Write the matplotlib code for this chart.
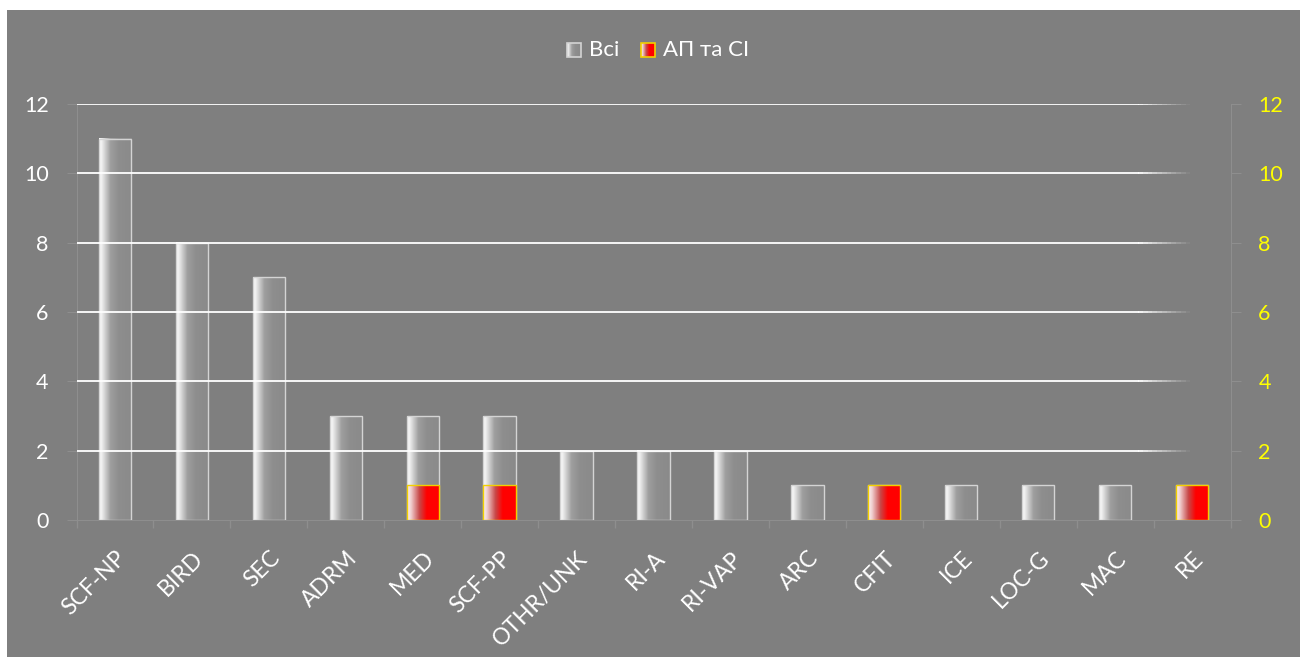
import numpy as np
import matplotlib
matplotlib.use("Agg")
import matplotlib.pyplot as plt
from matplotlib.patches import Rectangle
from matplotlib.colors import LinearSegmentedColormap
from matplotlib.collections import LineCollection
from matplotlib.transforms import ScaledTranslation

plt.rcParams['font.family'] = ['Lato', 'Noto Sans', 'DejaVu Sans']

# Occurrence categories and counts
categories = ["SCF-NP", "BIRD", "SEC", "ADRM", "MED", "SCF-PP", "OTHR/UNK",
              "RI-A", "RI-VAP", "ARC", "CFIT", "ICE", "LOC-G", "MAC", "RE"]
all_counts = [11, 8, 7, 3, 3, 3, 2, 2, 2, 1, 1, 1, 1, 1, 1]
ap_si_counts = [0, 0, 0, 0, 1, 1, 0, 0, 0, 0, 1, 0, 0, 0, 1]
y_ticks = [0, 2, 4, 6, 8, 10, 12]
series_names = ["Всі", "АП та СІ"]

BG = "#7f7f7f"
AXIS_C = "#8e8e8e"

gray_cmap = LinearSegmentedColormap.from_list(
    "gray_bar", [(0.0, "#ffffff"), (0.08, "#f0f0f0"), (0.35, "#9e9e9e"),
                 (0.6, "#8e8e8e"), (1.0, "#8a8a8a")])
red_cmap = LinearSegmentedColormap.from_list(
    "red_bar", [(0.0, "#fff4f4"), (0.12, "#f0d0d0"), (0.38, "#c84848"),
                (0.6, "#ff0000"), (1.0, "#ff0000")])
grad = np.linspace(0, 1, 256).reshape(1, -1)

W, H = 1306, 657
fig = plt.figure(figsize=(W / 100, H / 100), dpi=100)
fig.patch.set_facecolor("white")
fig.add_artist(Rectangle((7 / W, 0), (1300 - 7) / W, (H - 10) / H,
                         transform=fig.transFigure, facecolor=BG,
                         edgecolor="none", zorder=0))

ax = fig.add_axes([76.5 / W, 1 - 520 / H, (1230.5 - 76.5) / W, (520 - 104) / H])
ax.set_facecolor("none")
ax2 = ax.twinx()
ax2.set_facecolor("none")

x = np.arange(len(categories))
bw = 0.42


def gradient_bars(axis, values, cmap, edge, z):
    bars = axis.bar(x, values, width=bw, facecolor="none", edgecolor=edge,
                    linewidth=1.0, zorder=z + 1)
    for b in bars:
        h = b.get_height()
        if h <= 0:
            b.set_visible(False)
            continue
        x0 = b.get_x()
        axis.imshow(grad, cmap=cmap, aspect="auto", interpolation="bilinear",
                    extent=[x0, x0 + b.get_width(), 0, h], zorder=z)
    return bars


gradient_bars(ax, all_counts, gray_cmap, "#d4d4d4", 2)
gradient_bars(ax2, ap_si_counts, red_cmap, "#f2d000", 2)

# gridlines, fading out near the right end
gx_end_solid, gx_end = 13.3, 13.98
for yv in y_ticks[1:]:
    ax.plot([-0.5, gx_end_solid], [yv, yv], color="white", lw=1.3, zorder=4)
    xs = np.linspace(gx_end_solid, gx_end, 12)
    segs = [[(xs[i], yv), (xs[i + 1], yv)] for i in range(len(xs) - 1)]
    alphas = np.linspace(1, 0.05, len(segs))
    lc = LineCollection(segs, colors=[(1, 1, 1, a) for a in alphas], lw=1.3, zorder=4)
    ax.add_collection(lc)

for a in (ax, ax2):
    a.set_xlim(-0.5, len(categories) - 0.5)
    a.set_ylim(0, 12)
    a.set_yticks(y_ticks)
    for s in a.spines.values():
        s.set_visible(False)

ax.spines["left"].set_visible(True)
ax.spines["bottom"].set_visible(True)
ax.spines["left"].set_color(AXIS_C)
ax.spines["bottom"].set_color(AXIS_C)
ax2.spines["right"].set_visible(True)
ax2.spines["right"].set_color(AXIS_C)

ax.set_xticks(x)
ax.set_xticklabels(categories, rotation=45, ha="right", va="center",
                   rotation_mode="anchor", color="white", fontsize=16.5)
ax.set_xticks(np.arange(-0.5, len(categories), 1), minor=True)
ax.tick_params(axis="x", which="major", length=0, pad=25)
ax.tick_params(axis="x", which="minor", length=6, color=AXIS_C, width=1)
shift = ScaledTranslation(8 / 100, 0, fig.dpi_scale_trans)
for lab in ax.get_xticklabels():
    lab.set_transform(lab.get_transform() + shift)

ax.tick_params(axis="y", length=7, color=AXIS_C, labelcolor="white",
               labelsize=15.5, pad=13)
ax2.tick_params(axis="y", length=7, color=AXIS_C, labelcolor="#ffff00",
                labelsize=15.5, pad=13)
ax2.tick_params(axis="x", which="both", length=0, labelbottom=False)


# legend drawn as small gradient swatches with captions
def swatch(px0, cmap, edge):
    sa = fig.add_axes([px0 / W, 1 - 57 / H, 14 / W, 14 / H])
    sa.imshow(grad, cmap=cmap, aspect="auto", extent=[0, 1, 0, 1],
              interpolation="bilinear")
    sa.add_patch(Rectangle((0, 0), 1, 1, facecolor="none", edgecolor=edge,
                           lw=1.2, transform=sa.transAxes, clip_on=False))
    sa.set_xlim(0, 1)
    sa.set_ylim(0, 1)
    sa.axis("off")


swatch(567, gray_cmap, "#d4d4d4")
fig.text(589 / W, 1 - 50 / H, series_names[0], color="white", fontsize=16,
         ha="left", va="center")
swatch(641, red_cmap, "#f2d000")
fig.text(663 / W, 1 - 50 / H, series_names[1], color="white", fontsize=16,
         ha="left", va="center")

fig.savefig("out.png", dpi=100, facecolor=fig.get_facecolor())
